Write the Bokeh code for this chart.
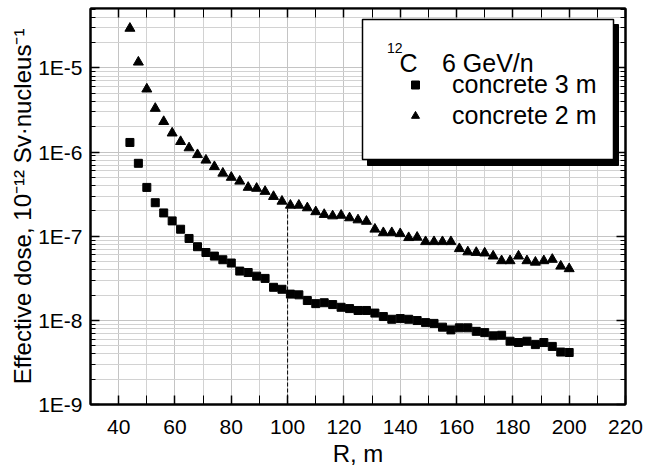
import math
from bokeh.plotting import figure
from bokeh.models import (FixedTicker, LinearAxis, LogAxis, CustomJSTickFormatter,
                          Label, BoxAnnotation, Legend, LegendItem, Range1d, Title)
from bokeh.embed import file_html
from bokeh.resources import INLINE

# ---------------- data ----------------
R_m = [44, 47, 50, 53, 56, 59, 62, 65, 68, 71,
       74, 77, 80, 83, 86, 89, 92, 95, 98, 101,
       104, 107, 110, 113, 116, 119, 122, 125, 128, 131,
       134, 137, 140, 143, 146, 149, 152, 155, 158, 161,
       164, 167, 170, 173, 176, 179, 182, 185, 188, 191,
       194, 197, 200]

dose_concrete_3m = [1.30e-6, 7.35e-7, 3.8e-7, 2.5e-7, 1.89e-7, 1.52e-7, 1.21e-7, 9.4e-8, 7.5e-8, 6.4e-8,
                    5.8e-8, 5.25e-8, 4.8e-8, 3.85e-8, 3.7e-8, 3.35e-8, 3.15e-8, 2.47e-8, 2.34e-8, 2.05e-8,
                    2.01e-8, 1.72e-8, 1.58e-8, 1.62e-8, 1.54e-8, 1.43e-8, 1.38e-8, 1.31e-8, 1.31e-8, 1.22e-8,
                    1.11e-8, 1.03e-8, 1.05e-8, 1.03e-8, 9.95e-9, 9.4e-9, 9.2e-9, 8.3e-9, 7.7e-9, 8.15e-9,
                    8.15e-9, 7.4e-9, 7.15e-9, 6.55e-9, 6.65e-9, 5.65e-9, 5.45e-9, 5.65e-9, 5.15e-9, 5.45e-9,
                    4.9e-9, 4.2e-9, 4.15e-9]

dose_concrete_2m = [2.95e-5, 1.17e-5, 5.6e-6, 3.3e-6, 2.3e-6, 1.68e-6, 1.33e-6, 1.12e-6, 9.3e-7, 8.0e-7,
                    6.7e-7, 5.6e-7, 5.0e-7, 4.5e-7, 3.8e-7, 3.7e-7, 3.4e-7, 2.96e-7, 2.6e-7, 2.33e-7,
                    2.33e-7, 2.17e-7, 1.95e-7, 1.81e-7, 1.74e-7, 1.77e-7, 1.65e-7, 1.56e-7, 1.50e-7, 1.21e-7,
                    1.10e-7, 1.10e-7, 1.07e-7, 9.6e-8, 9.7e-8, 8.6e-8, 8.6e-8, 8.6e-8, 8.6e-8, 7.1e-8,
                    6.5e-8, 6.4e-8, 6.3e-8, 5.8e-8, 5.1e-8, 5.1e-8, 5.8e-8, 5.1e-8, 4.9e-8, 5.1e-8,
                    5.3e-8, 4.4e-8, 4.1e-8]

ref_R = [100]
ref_dose_top = [2.2e-7]

x_major_ticks = [40, 60, 80, 100, 120, 140, 160, 180, 200, 220]
x_minor_ticks = [50, 70, 90, 110, 130, 150, 170, 190, 210]
y_major_ticks = [1e-9, 1e-8, 1e-7, 1e-6, 1e-5]
y_minor_ticks = [m * 10.0 ** e for e in range(-9, -4) for m in range(2, 10)]

x_lo, x_hi = 30, 220
y_lo, y_hi = 1e-9, 5.08e-5

x_title = "R, m"
y_title = "Effective dose, 10\u207b\u00b9\u00b2 Sv\u00b7nucleus\u207b\u00b9"
series_labels = ["concrete 3 m", "concrete 2 m"]

FONT = "Liberation Sans"

# ---------------- figure ----------------
p = figure(width=654, height=475, x_range=Range1d(x_lo, x_hi), y_range=Range1d(y_lo, y_hi),
           y_axis_type="log", output_backend="svg", toolbar_location=None,
           min_border_left=90, min_border_right=29, min_border_top=8, min_border_bottom=71)
p.background_fill_color = "white"
p.border_fill_color = "white"
p.outline_line_color = "black"
p.outline_line_width = 2

xt = FixedTicker(ticks=x_major_ticks, minor_ticks=x_minor_ticks)
yt = FixedTicker(ticks=y_major_ticks, minor_ticks=y_minor_ticks)

def style_axis(ax, minor_in):
    ax.axis_line_color = "black"
    ax.axis_line_width = 2
    ax.major_tick_in = 9
    ax.major_tick_out = 0
    ax.minor_tick_in = minor_in
    ax.minor_tick_out = 0
    ax.major_tick_line_color = "black"
    ax.minor_tick_line_color = "black"
    ax.major_tick_line_width = 1.5
    ax.minor_tick_line_width = 1
    ax.major_label_text_font = FONT
    ax.major_label_text_font_size = "21px"
    ax.major_label_text_color = "black"
    ax.axis_label_text_font = FONT
    ax.axis_label_text_font_size = "24px"
    ax.axis_label_text_font_style = "normal"
    ax.axis_label_text_color = "black"

xa = p.xaxis[0]
xa.ticker = xt
style_axis(xa, 9)
xa.major_label_standoff = 15

ya = p.yaxis[0]
ya.ticker = yt
ya.formatter = CustomJSTickFormatter(code="return '1E' + Math.round(Math.log10(tick)).toString();")
style_axis(ya, 5)
ya.major_label_standoff = 8
ya.axis_label = y_title
ya.axis_label_standoff = -1

empty = CustomJSTickFormatter(code="return '';")
top_ax = LinearAxis(ticker=xt, formatter=empty)
style_axis(top_ax, 9)
top_ax.major_label_text_font_size = "0px"
top_ax.major_label_standoff = 0
p.add_layout(top_ax, "above")

right_ax = LogAxis(ticker=yt, formatter=empty)
style_axis(right_ax, 5)
right_ax.major_label_text_font_size = "0px"
right_ax.major_label_standoff = 0
p.add_layout(right_ax, "right")

# x-axis title as a title panel below the axis
p.add_layout(Title(text=x_title, align="center", vertical_align="middle", standoff=4,
                   text_font=FONT, text_font_size="24px", text_font_style="normal",
                   text_color="black"), "below")

p.xgrid.ticker = xt
p.ygrid.ticker = yt
for g in (p.xgrid[0], p.ygrid[0]):
    g.grid_line_color = "#c4c4c4"
    g.grid_line_width = 1
    g.minor_grid_line_color = "#d2d2d2"
    g.minor_grid_line_width = 1

# ---------------- data marks ----------------
p.segment(x0=ref_R, y0=[y_lo], x1=ref_R, y1=ref_dose_top, line_color="black",
          line_width=1, line_dash="4 2")
sq = p.scatter(R_m, dose_concrete_3m, marker="square", size=8, fill_color="black", line_color="black")
tr = p.scatter(R_m, dose_concrete_2m, marker="triangle", size=10, fill_color="black", line_color="black")

# ---------------- legend box with shadow ----------------
def sx(page_x):
    return page_x - 90

def sy(page_y):
    return 404 - page_y

shadow = BoxAnnotation(left=sx(367), right=sx(618), top=sy(24), bottom=sy(165),
                       left_units="screen", right_units="screen", top_units="screen", bottom_units="screen",
                       fill_color="black", fill_alpha=1, line_color="black", line_alpha=1)
box = BoxAnnotation(left=sx(362), right=sx(613), top=sy(19), bottom=sy(159),
                    left_units="screen", right_units="screen", top_units="screen", bottom_units="screen",
                    fill_color="white", fill_alpha=1, line_color="black", line_width=1.5, line_alpha=1)
p.add_layout(shadow)
p.add_layout(box)

legend = Legend(items=[LegendItem(label=series_labels[0], renderers=[sq]),
                       LegendItem(label=series_labels[1], renderers=[tr])],
                location=(sx(405), sy(130)), glyph_width=20, glyph_height=29, label_height=29,
                label_standoff=27, spacing=2, padding=0, margin=0,
                border_line_color=None, background_fill_alpha=0,
                label_text_font=FONT, label_text_font_size="25px", label_text_color="black")
p.add_layout(legend)

def lab(text, x, y, size):
    p.add_layout(Label(x=x, y=y, x_units="screen", y_units="screen", text=text,
                       text_font=FONT, text_font_size=size, text_color="black",
                       text_align="left", text_baseline="alphabetic"))

# legend title
lab("12", sx(386.5), sy(47), "14px")
lab("C", sx(399), sy(62), "25px")
lab("6 GeV/n", sx(441.5), sy(62), "25px")

open("out.html", "w").write(file_html(p, INLINE))
